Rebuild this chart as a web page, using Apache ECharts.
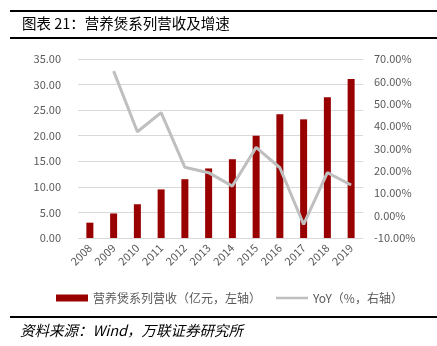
<!DOCTYPE html>
<html><head><meta charset="utf-8">
<script src="https://cdn.jsdelivr.net/npm/echarts@6/dist/echarts.min.js"></script>
<style>html,body{margin:0;padding:0;background:#fff}#c{width:437px;height:346px}</style>
</head><body><div id="c"></div>
<script>
const categories = ['2008','2009','2010','2011','2012','2013','2014','2015','2016','2017','2018','2019'];
const revenue = [3.0, 4.8, 6.6, 9.5, 11.5, 13.6, 15.4, 20.0, 24.2, 23.2, 27.5, 31.1];
const yoy = [null, 64.6, 37.5, 46.0, 21.6, 19.2, 13.2, 30.5, 21.4, -3.9, 19.2, 13.7];
const barName = '营养煲系列营收（亿元，左轴）';
const lineName = 'YoY（%，右轴）';
const titleText = '图表 21：营养煲系列营收及增速';
const sourceText = '资料来源：Wind，万联证券研究所';

const font = '"Noto Sans CJK SC", "Liberation Sans", sans-serif';
const chart = echarts.init(document.getElementById('c'), null, {renderer:'canvas'});
chart.setOption({
  animation: false,
  textStyle: {fontFamily: font},
  grid: {left: 78, right: 74, top: 59, bottom: 108, containLabel: false},
  legend: {
    top: 287, left: 51,
    itemWidth: 32, itemHeight: 7, itemGap: 15,
    textStyle: {color: '#595959', fontSize: 12, fontFamily: font},
    data: [
      {name: barName, icon: 'rect'},
      {name: lineName, icon: 'path://M0,0L0.01,0L0.01,0.01Z M0,2.2h32v2.6h-32z M0,7L0.01,7L0.01,6.99Z'}
    ]
  },
  xAxis: {
    type: 'category', data: categories,
    axisLine: {show: false}, axisTick: {show: false},
    axisLabel: {rotate: 45, color: '#595959', fontSize: 11, margin: 8, interval: 0}
  },
  yAxis: [
    {type: 'value', min: 0, max: 35, interval: 5,
     axisLabel: {color: '#595959', fontSize: 11, margin: 17, formatter: v => v.toFixed(2)},
     splitLine: {lineStyle: {color: '#d9d9d9', width: 1}},
     axisLine: {show: false}, axisTick: {show: false}},
    {type: 'value', min: -10, max: 70, interval: 10,
     axisLabel: {color: '#595959', fontSize: 11, margin: 11, formatter: v => v.toFixed(2) + '%'},
     splitLine: {show: false}, axisLine: {show: false}, axisTick: {show: false}}
  ],
  series: [
    {name: barName, type: 'bar', data: revenue, barWidth: 7, yAxisIndex: 0,
     itemStyle: {color: '#990000'}},
    {name: lineName, type: 'line', data: yoy, yAxisIndex: 1, symbol: 'none',
     lineStyle: {color: '#bfbfbf', width: 3}, itemStyle: {color: '#bfbfbf'}}
  ],
  graphic: [
    {type: 'rect', shape: {x: 10, y: 10, width: 427, height: 2}, style: {fill: '#000'}},
    {type: 'rect', shape: {x: 10, y: 37, width: 427, height: 2}, style: {fill: '#000'}},
    {type: 'text', left: 22, top: 16, style: {text: titleText, fontSize: 14.5, fill: '#000', fontFamily: font}},
    {type: 'rect', shape: {x: 10, y: 316, width: 427, height: 2}, style: {fill: '#000'}},
    {type: 'text', left: 20, top: 323, style: {text: sourceText, fontSize: 14.5, fill: '#000', fontStyle: 'italic', fontFamily: font}}
  ]
});
</script></body></html>
